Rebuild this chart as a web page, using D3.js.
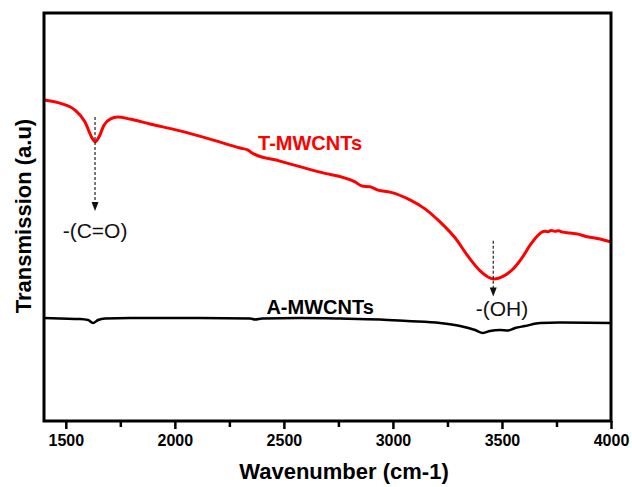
<!DOCTYPE html>
<head>
  <meta charset="utf-8">
  <style>
    body { margin: 0; background: #fff; }
    svg text { font-family: "Liberation Sans", Arial, sans-serif; }
    svg .tick text { font-size: 16px; font-weight: bold; }
    svg .domain { display: none; }
  </style>
</head>
<body>
<script src="https://d3js.org/d3.v7.min.js"></script>
<script>
  // T-MWCNTs spectrum, wavenumber (cm-1) vs transmission (a.u.)
  var tWave = [1400, 1473, 1542, 1588, 1620, 1634, 1652, 1675, 1703, 1739, 1794, 1886, 2024, 2161,
               2299, 2336, 2354, 2482, 2666, 2826, 2858, 2895, 2932, 2987, 3078, 3147, 3216, 3285,
               3344, 3400, 3436, 3464, 3500, 3546, 3592, 3629, 3661, 3680, 3698, 3712, 3725, 3743,
               3760, 3778, 3812, 3850, 3881, 3950, 4000];
  var tTrans = [78.7, 77.9, 76.2, 73.3, 69.4, 68.4, 69.6, 72.5, 74.0, 74.5, 74.0, 72.8, 71.1, 69.1,
                66.9, 66.4, 65.7, 63.7, 61.0, 58.6, 57.6, 57.4, 56.6, 56.1, 54.2, 52.0, 48.8, 44.9,
                40.4, 36.8, 35.3, 34.8, 35.3, 37.0, 40.0, 43.1, 45.3, 46.2, 46.5, 46.4, 46.7, 46.5,
                46.6, 46.3, 46.1, 45.8, 45.3, 44.6, 43.9];

  // A-MWCNTs spectrum
  var aWave = [1400, 1473, 1565, 1602, 1625, 1648, 1680, 1794, 2115, 2345, 2368, 2400, 2574, 2757,
               2941, 3065, 3216, 3308, 3377, 3413, 3445, 3491, 3528, 3560, 3606, 3675, 3766, 4000];
  var aTrans = [25.25, 25.12, 25.0, 24.75, 24.02, 24.75, 25.12, 25.25, 25.25, 25.12, 24.88, 25.12,
                25.25, 25.12, 24.88, 24.5, 24.02, 23.28, 22.3, 21.57, 22.06, 22.3, 22.18, 22.79,
                23.28, 24.02, 24.14, 24.02];

  var xTicks = [1500, 2000, 2500, 3000, 3500, 4000];
  var xMinor = [1750, 2250, 2750, 3250, 3750];

  // annotated bands
  var bandWave = [1634, 3460];
  var bandLabel = ["-(C=O)", "-(OH)"];
  var bandLabelWave = [1634, 3500];
  var bandTop = [74.5, 44.2];     // dashed line start
  var bandTip = [51.5, 30.5];     // arrow tip
  var bandText = [44.8, 25.8];    // label baseline

  var margin = { top: 13, right: 21, bottom: 66, left: 44 },
      W = 632, H = 487,
      width = W - margin.left - margin.right,
      height = H - margin.top - margin.bottom;

  var svg = d3.select("body").append("svg")
      .attr("width", W)
      .attr("height", H)
    .append("g")
      .attr("transform", "translate(" + margin.left + "," + margin.top + ")");

  var x = d3.scaleLinear().domain([1400, 4000]).range([0, width]);
  var y = d3.scaleLinear().domain([0, 100]).range([height, 0]);

  // minor ticks
  svg.append("g")
      .attr("transform", "translate(0," + height + ")")
      .call(d3.axisBottom(x).tickValues(xMinor).tickSize(6).tickFormat(""))
      .selectAll(".tick line").attr("stroke", "#000").attr("stroke-width", 2.5);

  // major ticks
  var xa = svg.append("g")
      .attr("transform", "translate(0," + height + ")")
      .call(d3.axisBottom(x).tickValues(xTicks).tickSize(8).tickPadding(6).tickFormat(d3.format("d")));
  xa.selectAll(".tick line").attr("stroke", "#000").attr("stroke-width", 2.5);
  xa.selectAll(".tick text").attr("fill", "#000");

  var line = d3.line()
      .x(function(d) { return x(d[0]); })
      .y(function(d) { return y(d[1]); })
      .curve(d3.curveMonotoneX);

  svg.append("path")
      .datum(d3.zip(aWave, aTrans))
      .attr("fill", "none")
      .attr("stroke", "#000")
      .attr("stroke-width", 2.5)
      .attr("d", line);

  svg.append("path")
      .datum(d3.zip(tWave, tTrans))
      .attr("fill", "none")
      .attr("stroke", "#ff0000")
      .attr("stroke-width", 3)
      .attr("d", line);

  // frame
  svg.append("rect")
      .attr("width", width)
      .attr("height", height)
      .attr("fill", "none")
      .attr("stroke", "#000")
      .attr("stroke-width", 3);

  // band arrows
  bandWave.forEach(function(w, i) {
    var px = x(w);
    svg.append("line")
        .attr("x1", px).attr("x2", px)
        .attr("y1", y(bandTop[i])).attr("y2", y(bandTip[i]) - 8)
        .attr("stroke", "#222")
        .attr("stroke-width", 1.2)
        .attr("stroke-dasharray", "3,2");
    svg.append("path")
        .attr("d", "M" + (px - 3.5) + "," + (y(bandTip[i]) - 9) +
                   "L" + (px + 3.5) + "," + (y(bandTip[i]) - 9) +
                   "L" + px + "," + y(bandTip[i]) + "Z")
        .attr("fill", "#111");
    svg.append("text")
        .attr("x", x(bandLabelWave[i]))
        .attr("y", y(bandText[i]))
        .attr("text-anchor", "middle")
        .style("font-size", "21px")
        .style("fill", "#111")
        .text(bandLabel[i]);
  });

  // series labels
  svg.append("text")
      .attr("x", x(2620)).attr("y", y(66.3))
      .attr("text-anchor", "middle")
      .style("font-size", "20px").style("font-weight", "bold")
      .style("fill", "#ff0000")
      .text("T-MWCNTs");
  svg.append("text")
      .attr("x", x(2666)).attr("y", y(26.2))
      .attr("text-anchor", "middle")
      .style("font-size", "20px").style("font-weight", "bold")
      .style("fill", "#000")
      .text("A-MWCNTs");

  // axis titles
  svg.append("text")
      .attr("x", 300)
      .attr("y", height + 58)
      .attr("text-anchor", "middle")
      .style("font-size", "22px").style("font-weight", "bold")
      .text("Wavenumber (cm-1)");
  svg.append("text")
      .attr("transform", "translate(" + (-21) + "," + (216 - margin.top) + ") rotate(-90)")
      .attr("dy", "0.35em")
      .attr("text-anchor", "middle")
      .style("font-size", "22px").style("font-weight", "bold")
      .text("Transmission (a.u)");
</script>
</body>
</html>
